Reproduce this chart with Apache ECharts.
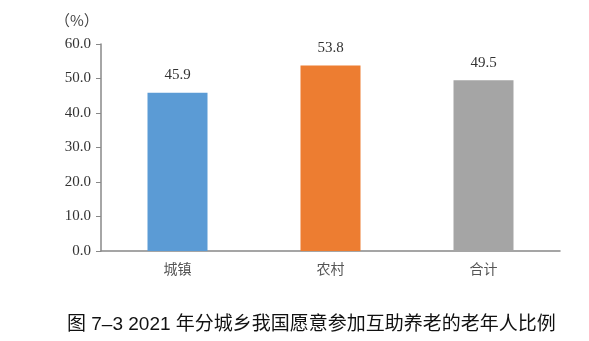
<!DOCTYPE html>
<html>
<head>
<meta charset="utf-8">
<script src="https://cdn.jsdelivr.net/npm/echarts@6/dist/echarts.min.js"></script>
<style>
html,body{margin:0;padding:0;background:#fff;}
#chart{width:589px;height:341px;}
</style>
</head>
<body>
<div id="chart"></div>
<script>
// Share of older people willing to join mutual-aid elderly care, 2021
const categories = ['城镇', '农村', '合计'];
const values = [45.9, 53.8, 49.5];
const barColors = ['#5B9BD5', '#ED7D31', '#A5A5A5'];
const yTicks = { min: 0, max: 60, interval: 10 };

const chart = echarts.init(document.getElementById('chart'));
chart.setOption({
  animation: false,
  grid: { left: 101, right: 29, top: 44, bottom: 90 },
  title: {
    text: '图 7–3 2021 年分城乡我国愿意参加互助养老的老年人比例',
    left: 62,
    top: 310,
    textStyle: { fontFamily: 'Liberation Sans, Noto Sans CJK SC', fontSize: 19, fontWeight: 'normal', color: '#111' }
  },
  graphic: [{
    type: 'text',
    left: 55,
    top: 13,
    style: { text: '（%）', font: '15px "Noto Sans CJK SC"', fill: '#444' }
  }],
  xAxis: {
    type: 'category',
    data: categories,
    axisLine: { lineStyle: { color: '#888', width: 1.5 } },
    axisTick: { show: false },
    axisLabel: { color: '#555', fontFamily: 'Noto Sans CJK SC', fontSize: 14, margin: 11 }
  },
  yAxis: {
    type: 'value',
    min: yTicks.min,
    max: yTicks.max,
    interval: yTicks.interval,
    splitLine: { show: false },
    axisLine: { show: true, lineStyle: { color: '#888', width: 1.5 } },
    axisTick: { show: true, length: 5, lineStyle: { color: '#888' } },
    axisLabel: {
      color: '#333', fontFamily: 'Liberation Serif', fontSize: 15, margin: 10,
      formatter: v => v.toFixed(1)
    }
  },
  series: [{
    type: 'bar',
    barWidth: 60,
    data: values.map((v, i) => ({ value: v, itemStyle: { color: barColors[i] } })),
    label: {
      show: true, position: 'top', distance: 10,
      color: '#333', fontFamily: 'Liberation Serif', fontSize: 15,
      formatter: p => p.value.toFixed(1)
    }
  }]
});
</script>
</body>
</html>
